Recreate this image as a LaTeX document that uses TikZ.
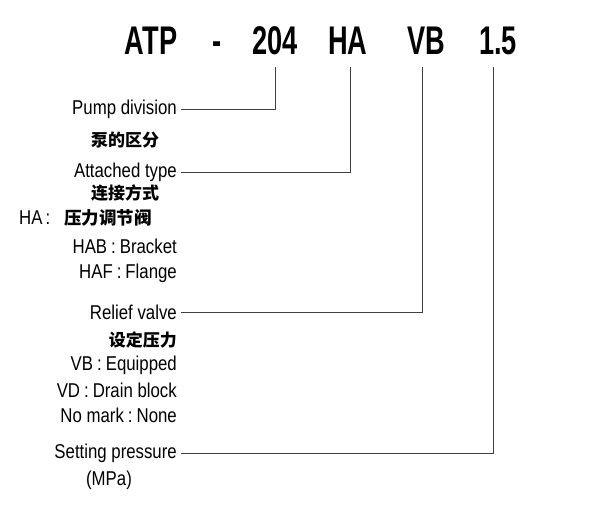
\documentclass[tikz,border=0pt]{standalone}
\usepackage{fontspec}
\setmainfont{Liberation Sans}[FakeStretch=0.84]
\newfontfamily\cjk{Noto Sans CJK SC}
\newfontfamily\codefont{Liberation Sans}[FakeStretch=0.68]
\newcommand{\cco}{\hspace{4pt}:\hspace{4pt}}

\begin{document}
\begin{tikzpicture}[x=1pt,y=-1pt]
\tikzset{every node/.style={inner sep=0pt},
  code/.style={font=\codefont\bfseries\fontsize{40}{40}\selectfont,anchor=base},
  lbl/.style={font=\fontsize{20}{20}\selectfont,anchor=east},
  cn/.style={font=\cjk\bfseries\fontsize{17}{17}\selectfont},
  lead/.style={black!75,line width=0.8pt}}
\useasboundingbox (0,0) rectangle (589,506);
% model code
\node[code] (atp) at (151,54) {ATP};
\node[code] (dash) at (217,54) {-};
\node[code] (pno) at (275,54) {204};
\node[code] (att) at (348,54) {HA};
\node[code] (vlv) at (426,54) {VB};
\node[code] (prs) at (498,54) {1.5};
% labels
\node[lbl] (pump) at (177,109) {Pump division};
\node[cn] (pumpcn) at (125,140) {泵的区分};
\node[lbl] (attach) at (177,172) {Attached type};
\node[cn] (attachcn) at (125,193) {连接方式};
\node[lbl,anchor=west] (ha) at (19,218) {HA\hspace{3pt}:\hspace{14pt}{\cjk\bfseries\fontsize{17.5}{17.5}\selectfont 压力调节阀}};
\node[lbl] (hab) at (177,246) {HAB\cco Bracket};
\node[lbl] (haf) at (177,273) {HAF\cco Flange};
\node[lbl] (relief) at (177,312) {Relief valve};
\node[cn,anchor=east] (reliefcn) at (177,340) {设定压力};
\node[lbl] (vb) at (177,365) {VB\cco Equipped};
\node[lbl] (vd) at (177,390) {VD\cco Drain block};
\node[lbl] (nomark) at (177,415) {No mark\cco None};
\node[lbl] (setp) at (177,453) {Setting pressure};
\node[lbl,anchor=center] (mpa) at (109,480) {(MPa)};
% leader lines
\draw[lead] (pno.base) ++(0,13) |- ([xshift=4pt]pump.east);
\draw[lead] (att.base) ++(2,13) |- ([xshift=4pt]attach.east);
\draw[lead] (vlv.base) ++(-4,13) |- ([xshift=4pt]relief.east);
\draw[lead] (prs.base) ++(-5,13) |- ([xshift=4pt]setp.east);
\end{tikzpicture}
\end{document}
